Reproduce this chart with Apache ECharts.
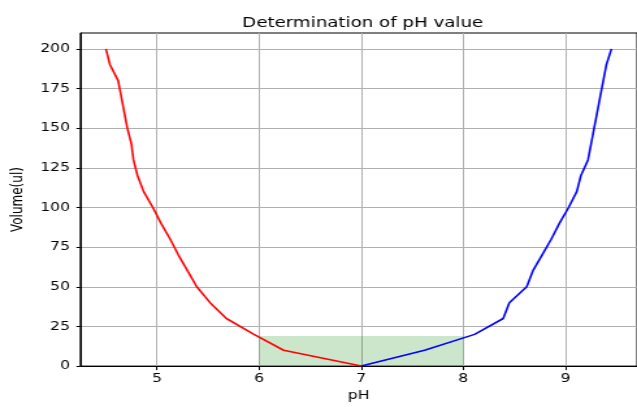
<!DOCTYPE html>
<html>
	<head>
		<meta charset="UTF-8">
		<title></title>
		<style>
			html, body { margin: 0; padding: 0; background: #fff; overflow: hidden; }
			/* the reference picture is stretched sideways, so draw narrow and widen */
			#main { width: 490px; height: 407px; transform: scaleX(1.3); transform-origin: 0 0; }
		</style>
	</head>
	<body>
		<div id="main"></div>
	</body>
	<script src="https://cdn.jsdelivr.net/npm/echarts@6/dist/echarts.min.js"></script>
	<script>
		// titration data
		var redPH = [4.5, 4.54, 4.62, 4.65, 4.68, 4.71, 4.75, 4.77, 4.81, 4.87, 4.96, 5.04, 5.13, 5.21, 5.30, 5.39, 5.52, 5.68, 5.95, 6.24, 7.0];
		var redVol = [200, 190, 180, 170, 160, 150, 140, 130, 120, 110, 100, 90, 80, 70, 60, 50, 40, 30, 20, 10, 0];
		var bluePH = [7.0, 7.62, 8.11, 8.39, 8.45, 8.62, 8.68, 8.77, 8.86, 8.94, 9.03, 9.11, 9.15, 9.22, 9.25, 9.28, 9.31, 9.34, 9.37, 9.40, 9.45];
		var blueVol = [0, 10, 20, 30, 40, 50, 60, 70, 80, 90, 100, 110, 120, 130, 140, 150, 160, 170, 180, 190, 200];
		var xTicks = [5, 6, 7, 8, 9];
		var yTicks = [0, 25, 50, 75, 100, 125, 150, 175, 200];
		var bandX = [6, 8];
		var bandTop = 19;

		function pairs(xs, ys) {
			var out = [];
			for (var i = 0; i < xs.length; i++) out.push([xs[i], ys[i]]);
			return out;
		}

		var myChart = echarts.init(document.getElementById('main'));
		var font = 'DejaVu Sans';

		var option = {
			animation: false,
			title: {
				text: 'Determination of pH value',
				left: 274,
				textAlign: 'center',
				top: 11,
				textStyle: { fontFamily: font, fontSize: 14, fontWeight: 'normal', color: '#000' }
			},
			grid: {
				left: 57, top: 33, right: -2, bottom: 38,
				show: true, borderColor: '#000', borderWidth: 1
			},
			xAxis: {
				type: 'value',
				min: 4.25, max: 9.7,
				name: 'pH',
				nameLocation: 'middle',
				nameGap: 22,
				nameTextStyle: { fontFamily: font, fontSize: 12, color: '#000' },
				axisLine: { lineStyle: { color: '#000' } },
				axisTick: { customValues: xTicks, length: 4, lineStyle: { color: '#000' } },
				axisLabel: { customValues: xTicks, fontFamily: font, fontSize: 12, color: '#000', margin: 7 },
				splitLine: { show: true, lineStyle: { color: '#b0b0b0', width: 1 } }
			},
			yAxis: {
				type: 'value',
				min: 0, max: 210,
				name: 'Volume(ul)',
				nameLocation: 'middle',
				nameGap: 37,
				nameTextStyle: { fontFamily: font, fontSize: 12, color: '#000' },
				axisLine: { show: true, lineStyle: { color: '#000' } },
				axisTick: { show: true, customValues: yTicks, length: 3, lineStyle: { color: '#000' } },
				axisLabel: { customValues: yTicks, fontFamily: font, fontSize: 12, color: '#000', margin: 8 },
				splitLine: { show: true, lineStyle: { color: '#b0b0b0', width: 1 } }
			},
			series: [
				{
					type: 'line',
					data: pairs(redPH, redVol),
					showSymbol: false,
					lineStyle: { color: 'red', width: 1.6 },
					markArea: {
						silent: true,
						itemStyle: { color: 'rgba(0,128,0,0.2)' },
						data: [[{ coord: [bandX[0], 0] }, { coord: [bandX[1], bandTop] }]]
					},
					z: 3
				},
				{
					type: 'line',
					data: pairs(bluePH, blueVol),
					showSymbol: false,
					lineStyle: { color: 'blue', width: 1.6 },
					z: 3
				}
			]
		};

		myChart.setOption(option);
	</script>
</html>
